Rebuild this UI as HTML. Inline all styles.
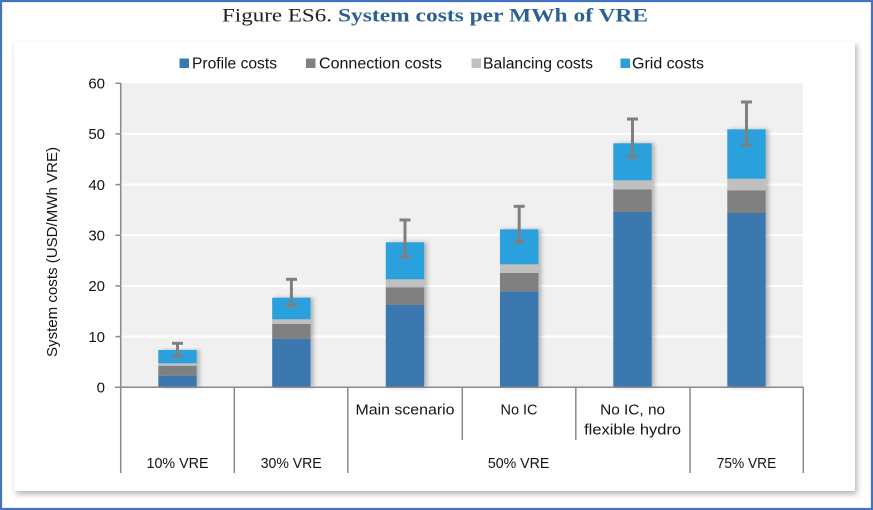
<!DOCTYPE html>
<html><head><meta charset="utf-8">
<style>
html,body{margin:0;padding:0;background:#fff;}
svg{display:block;}
text{font-family:"Liberation Sans",Arial,sans-serif;fill:#141414;}
</style></head>
<body>
<svg width="873" height="510" viewBox="0 0 873 510" xmlns="http://www.w3.org/2000/svg">
<defs>
<filter id="ps" x="-5%" y="-5%" width="112%" height="115%">
<feDropShadow dx="2" dy="3" stdDeviation="3" flood-color="#000" flood-opacity="0.3"/>
</filter>
<filter id="bs" x="-20%" y="-5%" width="150%" height="110%">
<feDropShadow dx="3" dy="0" stdDeviation="2" flood-color="#000" flood-opacity="0.25"/>
</filter>
</defs>
<rect x="0" y="0" width="873" height="510" fill="#fff"/>
<!-- panel -->
<rect x="14" y="42" width="841" height="449" fill="#fff" filter="url(#ps)"/>
<!-- blue border -->
<rect x="1" y="1" width="871" height="508" fill="none" stroke="#4472C4" stroke-width="2.2"/>

<!-- title -->
<text x="222" y="21.5" font-size="19" style="font-family:'Liberation Serif',serif;fill:#231f20" textLength="110" lengthAdjust="spacingAndGlyphs">Figure ES6.</text>
<text x="338" y="21.5" font-size="19" font-weight="bold" style="font-family:'Liberation Serif',serif;fill:#2e5f93" textLength="310" lengthAdjust="spacingAndGlyphs">System costs per MWh of VRE</text>

<!-- legend -->
<rect x="179.5" y="58.5" width="9.5" height="9.5" fill="#3a78b0"/>
<text x="192" y="68.5" font-size="15.5" textLength="85" lengthAdjust="spacingAndGlyphs">Profile costs</text>
<rect x="306" y="58.5" width="9.5" height="9.5" fill="#808080"/>
<text x="319" y="68.5" font-size="15.5" textLength="123" lengthAdjust="spacingAndGlyphs">Connection costs</text>
<rect x="471.5" y="58.5" width="9.5" height="9.5" fill="#c0c0c0"/>
<text x="483" y="68.5" font-size="15.5" textLength="110" lengthAdjust="spacingAndGlyphs">Balancing costs</text>
<rect x="620.5" y="58.5" width="9.5" height="9.5" fill="#29a0dc"/>
<text x="632" y="68.5" font-size="15.5" textLength="72" lengthAdjust="spacingAndGlyphs">Grid costs</text>

<!-- plot bg -->
<rect x="121" y="83.3" width="682" height="304" fill="#f0f0f0"/>
<g stroke="#ffffff" stroke-width="2">
<line x1="121" x2="803" y1="133.9" y2="133.9"/>
<line x1="121" x2="803" y1="184.6" y2="184.6"/>
<line x1="121" x2="803" y1="235.3" y2="235.3"/>
<line x1="121" x2="803" y1="286" y2="286"/>
<line x1="121" x2="803" y1="336.6" y2="336.6"/>
</g>

<!-- y ticks labels -->
<g font-size="15" text-anchor="end">
<text x="105" y="88.5">60</text>
<text x="105" y="139">50</text>
<text x="105" y="189.8">40</text>
<text x="105" y="240.5">30</text>
<text x="105" y="291.2">20</text>
<text x="105" y="341.8">10</text>
<text x="105" y="392.5">0</text>
</g>
<text transform="translate(57,252) rotate(-90)" font-size="15" text-anchor="middle" textLength="210" lengthAdjust="spacingAndGlyphs">System costs (USD/MWh VRE)</text>

<!-- bars -->
<g filter="url(#bs)">
<rect x="158.3" y="375.7" width="38.4" height="11.6" fill="#3a78b0"/>
<rect x="158.3" y="365.7" width="38.4" height="10" fill="#808080"/>
<rect x="158.3" y="363.3" width="38.4" height="2.4" fill="#c0c0c0"/>
<rect x="158.3" y="350" width="38.4" height="13.3" fill="#29a0dc"/>
</g>
<g filter="url(#bs)">
<rect x="272.2" y="338.7" width="38.4" height="48.6" fill="#3a78b0"/>
<rect x="272.2" y="324" width="38.4" height="14.7" fill="#808080"/>
<rect x="272.2" y="319.3" width="38.4" height="4.7" fill="#c0c0c0"/>
<rect x="272.2" y="297.7" width="38.4" height="21.6" fill="#29a0dc"/>
</g>
<g filter="url(#bs)">
<rect x="385.8" y="305" width="38.4" height="82.3" fill="#3a78b0"/>
<rect x="385.8" y="287.3" width="38.4" height="17.7" fill="#808080"/>
<rect x="385.8" y="279.3" width="38.4" height="8" fill="#c0c0c0"/>
<rect x="385.8" y="242.3" width="38.4" height="37" fill="#29a0dc"/>
</g>
<g filter="url(#bs)">
<rect x="500" y="291.3" width="38.4" height="96" fill="#3a78b0"/>
<rect x="500" y="273" width="38.4" height="18.3" fill="#808080"/>
<rect x="500" y="264.3" width="38.4" height="8.7" fill="#c0c0c0"/>
<rect x="500" y="229.3" width="38.4" height="35" fill="#29a0dc"/>
</g>
<g filter="url(#bs)">
<rect x="613.3" y="212" width="38.4" height="175.3" fill="#3a78b0"/>
<rect x="613.3" y="189.3" width="38.4" height="22.7" fill="#808080"/>
<rect x="613.3" y="180.3" width="38.4" height="9" fill="#c0c0c0"/>
<rect x="613.3" y="143.3" width="38.4" height="37" fill="#29a0dc"/>
</g>
<g filter="url(#bs)">
<rect x="727.3" y="213" width="38.4" height="174.3" fill="#3a78b0"/>
<rect x="727.3" y="190.3" width="38.4" height="22.7" fill="#808080"/>
<rect x="727.3" y="178.7" width="38.4" height="11.6" fill="#c0c0c0"/>
<rect x="727.3" y="129.3" width="38.4" height="49.4" fill="#29a0dc"/>
</g>

<!-- error bars -->
<g stroke="#7f7f7f" stroke-width="3" fill="none">
<line x1="177.5" x2="177.5" y1="343.3" y2="356.7"/>
<line x1="172" x2="183" y1="343.3" y2="343.3"/>
<line x1="172" x2="183" y1="356.7" y2="356.7"/>

<line x1="291.4" x2="291.4" y1="279.3" y2="305.3"/>
<line x1="286" x2="297" y1="279.3" y2="279.3"/>
<line x1="286" x2="297" y1="305.3" y2="305.3"/>

<line x1="405" x2="405" y1="220" y2="256.7"/>
<line x1="399.5" x2="410.5" y1="220" y2="220"/>
<line x1="399.5" x2="410.5" y1="256.7" y2="256.7"/>

<line x1="519.2" x2="519.2" y1="206.3" y2="242.3"/>
<line x1="513.7" x2="524.7" y1="206.3" y2="206.3"/>
<line x1="513.7" x2="524.7" y1="242.3" y2="242.3"/>

<line x1="632.5" x2="632.5" y1="119" y2="157"/>
<line x1="627" x2="638" y1="119" y2="119"/>
<line x1="627" x2="638" y1="157" y2="157"/>

<line x1="746.5" x2="746.5" y1="102" y2="145"/>
<line x1="741" x2="752" y1="102" y2="102"/>
<line x1="741" x2="752" y1="145" y2="145"/>
</g>

<!-- axes -->
<g stroke="#8a8a8a" stroke-width="1.5" fill="none">
<line x1="120.7" x2="120.7" y1="83" y2="473"/>
<line x1="115" x2="803.5" y1="387.3" y2="387.3"/>
<line x1="115.5" x2="120.7" y1="83.3" y2="83.3"/>
<line x1="115.5" x2="120.7" y1="133.9" y2="133.9"/>
<line x1="115.5" x2="120.7" y1="184.6" y2="184.6"/>
<line x1="115.5" x2="120.7" y1="235.3" y2="235.3"/>
<line x1="115.5" x2="120.7" y1="286" y2="286"/>
<line x1="115.5" x2="120.7" y1="336.6" y2="336.6"/>
<line x1="234.3" x2="234.3" y1="387" y2="473"/>
<line x1="347.8" x2="347.8" y1="387" y2="473"/>
<line x1="462.3" x2="462.3" y1="387" y2="440"/>
<line x1="575.8" x2="575.8" y1="387" y2="440"/>
<line x1="690" x2="690" y1="387" y2="473"/>
<line x1="803.3" x2="803.3" y1="387" y2="473"/>
</g>

<!-- category labels -->
<g font-size="15" text-anchor="middle">
<text x="405" y="414.5" textLength="99" lengthAdjust="spacingAndGlyphs">Main scenario</text>
<text x="519" y="414.5" textLength="37" lengthAdjust="spacingAndGlyphs">No IC</text>
<text x="632.6" y="414.5" textLength="65" lengthAdjust="spacingAndGlyphs">No IC, no</text>
<text x="632.6" y="434.5" textLength="97" lengthAdjust="spacingAndGlyphs">flexible hydro</text>
<text x="177.5" y="468" textLength="62" lengthAdjust="spacingAndGlyphs">10% VRE</text>
<text x="291.2" y="468" textLength="61" lengthAdjust="spacingAndGlyphs">30% VRE</text>
<text x="518.6" y="468" textLength="61.5" lengthAdjust="spacingAndGlyphs">50% VRE</text>
<text x="746.5" y="468" textLength="59.5" lengthAdjust="spacingAndGlyphs">75% VRE</text>
</g>
</svg>
</body></html>
